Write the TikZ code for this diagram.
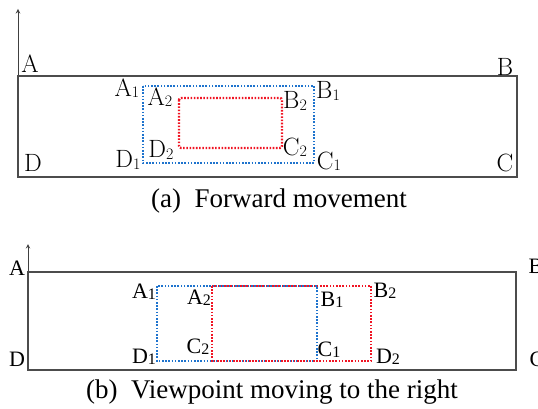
\documentclass[tikz,border=0pt]{standalone}
\usepackage{fontspec}
\setmainfont{Liberation Serif}
\newfontfamily\lmfont{Latin Modern Roman}
\usetikzlibrary{calc}
\definecolor{dotblue}{RGB}{30,115,205}
\definecolor{dotred}{RGB}{240,20,35}
\newcommand{\cornerlab}[2]{#1\raisebox{-.1ex}{\fontsize{16}{16}\selectfont #2}}

\begin{document}
\begin{tikzpicture}[
    x=1pt, y=-1pt,
    frame/.style={draw=black!70, line width=1.3pt},
    blueframe/.style={draw=dotblue, line width=2.4pt, dash pattern=on 1.6pt off 1.6pt},
    redframe/.style={draw=dotred, line width=2.4pt, dash pattern=on 1.6pt off 1.6pt},
    lab/.style={inner sep=0pt, font=\fontsize{22}{22}\selectfont},
    lmlab/.style={inner sep=0pt, font=\lmfont\fontsize{25}{25}\selectfont},
    caption/.style={inner sep=0pt, font=\fontsize{27}{27}\selectfont}
  ]
  \useasboundingbox (0,0) rectangle (538,409);

  % (a) forward movement
  \coordinate (axisA) at (18,177);
  \coordinate (tipA) at (18,9);
  \draw[black!75, line width=1pt, ->, >=stealth] (axisA) -- (tipA);
  \coordinate (topA) at (18,76);
  \coordinate (botA) at (517,177);
  \draw[frame] (topA) rectangle (botA);
  \coordinate (blueTL) at (143,86);
  \coordinate (blueBR) at (314,163);
  \draw[blueframe] (blueTL) rectangle (blueBR);
  \coordinate (redTL) at (179,98);
  \coordinate (redBR) at (282,148);
  \draw[redframe, rounded corners=2pt] (redTL) rectangle (redBR);

  \node[lmlab] (a-A) at (30,64) {A};
  \node[lmlab] (a-B) at (505,67) {B};
  \node[lmlab] (a-D) at (33,163) {D};
  \node[lmlab] (a-C) at (505,163) {C};
  \node[lmlab] (a-A1) at (127,88) {\cornerlab{A}{1}};
  \node[lmlab] (a-A2) at (160,97) {\cornerlab{A}{2}};
  \node[lmlab] (a-B1) at (328,91) {\cornerlab{B}{1}};
  \node[lmlab] (a-B2) at (295,101) {\cornerlab{B}{2}};
  \node[lmlab] (a-D2) at (161,150) {\cornerlab{D}{2}};
  \node[lmlab] (a-C2) at (295,147) {\cornerlab{C}{2}};
  \node[lmlab] (a-D1) at (128,160) {\cornerlab{D}{1}};
  \node[lmlab] (a-C1) at (329,161) {\cornerlab{C}{1}};
  \node[caption] (capA) at (279,201) {(a)\enspace Forward movement};

  % (b) viewpoint moving to the right
  \coordinate (axisB) at (28,370);
  \coordinate (tipB) at (28,244);
  \draw[black!75, line width=1pt, ->, >=stealth] (axisB) -- (tipB);
  \coordinate (topB) at (28,272);
  \coordinate (botB) at (516,370);
  \draw[frame] (topB) rectangle (botB);
  \coordinate (blueTLb) at (157,286);
  \coordinate (blueBRb) at (317,361);
  \draw[blueframe] (blueTLb) rectangle (blueBRb);
  \coordinate (redTLb) at (212,286);
  \coordinate (redBRb) at (371,361);
  \draw[redframe] (redTLb) rectangle (redBRb);

  \node[lab] (b-A) at (17,268) {A};
  \node[lab] (b-B) at (536,266) {B};
  \node[lab] (b-D) at (17,359) {D};
  \node[lab] (b-C) at (537,359) {C};
  \node[lab] (b-A1) at (144,292) {\cornerlab{A}{1}};
  \node[lab] (b-A2) at (199,298) {\cornerlab{A}{2}};
  \node[lab] (b-B1) at (332,300) {\cornerlab{B}{1}};
  \node[lab] (b-B2) at (385,291) {\cornerlab{B}{2}};
  \node[lab] (b-C2) at (198,347) {\cornerlab{C}{2}};
  \node[lab] (b-C1) at (329,350) {\cornerlab{C}{1}};
  \node[lab] (b-D1) at (144,357) {\cornerlab{D}{1}};
  \node[lab] (b-D2) at (388,357) {\cornerlab{D}{2}};
  \node[caption] (capB) at (272,392) {(b)\enspace Viewpoint moving to the right};
\end{tikzpicture}
\end{document}
